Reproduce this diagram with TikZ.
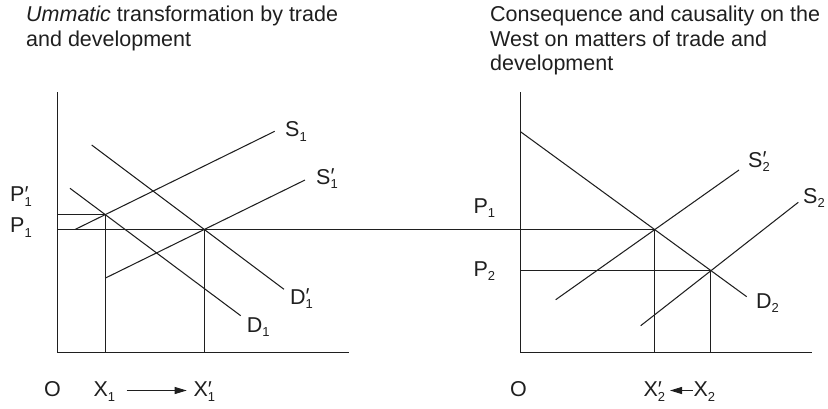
\documentclass[tikz,border=0pt]{standalone}
\usepackage{fontspec}
\setmainfont{Liberation Sans}
\usetikzlibrary{arrows.meta}
\newcommand{\sbs}[1]{\raisebox{-0.2em}{\fontsize{13}{13}\selectfont #1}}
\newcommand{\psb}[1]{\rlap{\raisebox{0.02em}{′}}\raisebox{-0.2em}{\fontsize{13}{13}\selectfont #1}}
\begin{document}
\begin{tikzpicture}[x=1pt,y=-1pt,
  every node/.style={font=\fontsize{21.5}{24.3}\selectfont, text=black!88, inner sep=0pt},
  lab/.style={anchor=base west},
  curve/.style={line width=1.05pt, draw=black!88},
  axis/.style={line width=1.15pt, draw=black!88},
  guide/.style={line width=1.05pt, draw=black!88},
  arr/.style={line width=1.05pt, draw=black!88, -{Triangle[length=12pt,width=7pt]}}]
\useasboundingbox (0,0) rectangle (828,408);
% titles
\node[lab] (t1a) at (26,21.7) {\textit{Ummatic} transformation by trade};
\node[lab] (t1b) at (26,46) {and development};
\node[lab] (t2a) at (490,21.7) {Consequence and causality on the};
\node[lab] (t2b) at (490,46) {West on matters of trade and};
\node[lab] (t2c) at (490,70.3) {development};
% left panel coordinates
\coordinate (LO) at (57.5,352.5);
\coordinate (LY) at (57.5,92);
\coordinate (LX) at (349,352.5);
\coordinate (E1) at (105.5,214.5);
\coordinate (E2) at (204.5,229.5);
\coordinate (P1pL) at (57.5,214.5);
\coordinate (P1L) at (57.5,229.5);
\coordinate (S1a) at (75,229.5);   \coordinate (S1b) at (274.7,131.3);
\coordinate (S1pa) at (105.5,278); \coordinate (S1pb) at (305,180);
\coordinate (D1a) at (70,188.3);   \coordinate (D1b) at (240.7,315.7);
\coordinate (D1pa) at (91.7,145);  \coordinate (D1pb) at (284,289.3);
% right panel coordinates
\coordinate (RO) at (520.5,352.5);
\coordinate (RY) at (520.5,92);
\coordinate (RX) at (812,352.5);
\coordinate (E3) at (654.5,229.5);
\coordinate (E4) at (710.5,270.5);
\coordinate (P2R) at (520.5,270.5);
\coordinate (D2a) at (520.5,131.7);   \coordinate (D2b) at (746.7,296.7);
\coordinate (S2pa) at (555.7,299.7);\coordinate (S2pb) at (739,170);
\coordinate (S2a) at (640.7,325.7); \coordinate (S2b) at (798.3,202.3);
% axes
\draw[axis] (LY) -- (LO) -- (LX);
\draw[axis] (RY) -- (RO) -- (RX);
% guides
\draw[guide] (P1L) -- (E3);
\draw[guide] (P1pL) -- (E1) -- (E1 |- LO);
\draw[guide] (E2) -- (E2 |- LO);
\draw[guide] (P2R) -- (E4) -- (E4 |- RO);
\draw[guide] (E3) -- (E3 |- RO);
% curves
\draw[curve] (S1a) -- (S1b);
\draw[curve] (S1pa) -- (S1pb);
\draw[curve] (D1a) -- (D1b);
\draw[curve] (D1pa) -- (D1pb);
\draw[curve] (D2a) -- (D2b);
\draw[curve] (S2pa) -- (S2pb);
\draw[curve] (S2a) -- (S2b);
% labels left
\node[lab] (lS1) at (285,136.7) {S\sbs{1}};
\node[lab] (lS1p) at (316,184) {S\psb{1}};
\node[lab] (lP1p) at (10,201.7) {P\psb{1}};
\node[lab] (lP1) at (10,232.7) {P\sbs{1}};
\node[lab] (lD1p) at (290,304) {D\psb{1}};
\node[lab] (lD1) at (246.7,332.3) {D\sbs{1}};
\node[lab] (lO1) at (44,396.7) {O};
\node[lab] (lX1) at (93.3,396.7) {X\sbs{1}};
\node[lab] (lX1p) at (193.3,396.7) {X\psb{1}};
% labels right
\node[lab] (lP1r) at (473.3,213.3) {P\sbs{1}};
\node[lab] (lP2) at (473.3,276) {P\sbs{2}};
\node[lab] (lS2p) at (748,167) {S\psb{2}};
\node[lab] (lS2) at (803,203) {S\sbs{2}};
\node[lab] (lD2) at (756,308.3) {D\sbs{2}};
\node[lab] (lO2) at (510,396.7) {O};
\node[lab] (lX2p) at (643.3,396.7) {X\psb{2}};
\node[lab] (lX2) at (693.3,396.7) {X\sbs{2}};
% arrows
\coordinate (a1s) at (126.7,390.5);
\coordinate (a1e) at (186.7,390.5);
\coordinate (a2s) at (692.7,390.5);
\coordinate (a2e) at (670,390.5);
\draw[arr] (a1s) -- (a1e);
\draw[arr] (a2s) -- (a2e);
\end{tikzpicture}
\end{document}
